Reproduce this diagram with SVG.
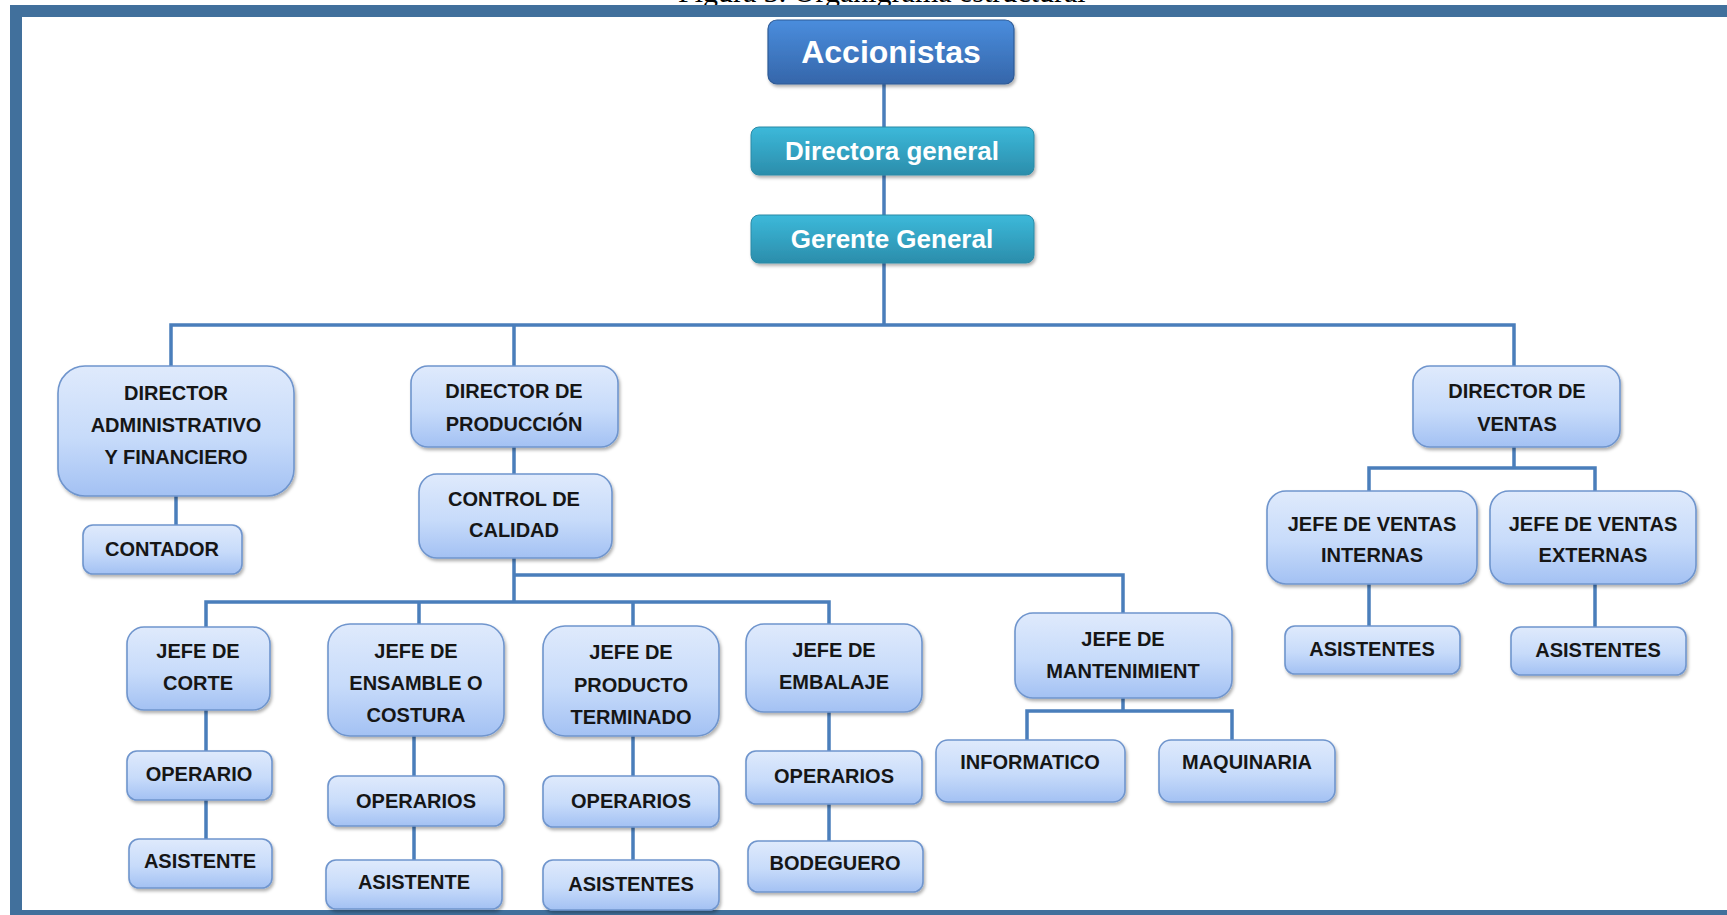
<svg xmlns="http://www.w3.org/2000/svg" width="1727" height="915" viewBox="0 0 1727 915">
<style>
.n{fill:url(#gL);stroke:#6f95cd;stroke-width:1.6;filter:url(#sh)}
.tl{fill:url(#gT);stroke:#2a8aa6;stroke-width:1;filter:url(#sh)}
.tp{fill:url(#gA);stroke:#2d5a96;stroke-width:1.2;filter:url(#sh)}
.t{font-family:"Liberation Sans",Arial,sans-serif;font-weight:bold;font-size:20px;fill:#161616;text-anchor:middle}
.w{font-family:"Liberation Sans",Arial,sans-serif;font-weight:bold;fill:#ffffff;text-anchor:middle}
.c{fill:none;stroke:#4a7ebb;stroke-width:3.5;stroke-linejoin:miter}
.frame{fill:#41709c}
</style>
<defs>
<linearGradient id="gL" x1="0" y1="0" x2="0" y2="1">
<stop offset="0" stop-color="#dfeafc"/>
<stop offset="0.55" stop-color="#c7dbfa"/>
<stop offset="1" stop-color="#a3c1f3"/>
</linearGradient>
<linearGradient id="gT" x1="0" y1="0" x2="0" y2="1">
<stop offset="0" stop-color="#3cb9da"/>
<stop offset="1" stop-color="#2b8dab"/>
</linearGradient>
<linearGradient id="gA" x1="0" y1="0" x2="0" y2="1">
<stop offset="0" stop-color="#4a8ddd"/>
<stop offset="1" stop-color="#3566aa"/>
</linearGradient>
<filter id="sh" x="-10%" y="-10%" width="120%" height="130%">
<feDropShadow dx="1.5" dy="2.5" stdDeviation="1.8" flood-color="#000" flood-opacity="0.3"/>
</filter>
</defs>
<rect x="0" y="0" width="1727" height="915" fill="#ffffff"/>
<text x="678" y="2" font-family="Liberation Serif,'Times New Roman',serif" font-size="30" fill="#000">Figura 3. Organigrama estructural</text>
<g id="frame">
<rect class="frame" x="10" y="5" width="1717" height="12"/>
<rect class="frame" x="10" y="5" width="12" height="910"/>
<rect class="frame" x="10" y="910" width="1717" height="5"/>
</g>
<g id="connectors">
<path class="c" d="M884 84V127M884 175V215M884 263V325"/>
<path class="c" d="M171 366V325H1514V366M514 325V366"/>
<path class="c" d="M176 496V525"/>
<path class="c" d="M514 447V474M514 558V602"/>
<path class="c" d="M514 575H1123V613"/>
<path class="c" d="M206 627V602H829V624M419 602V624M633 602V626"/>
<path class="c" d="M206 710V751M206 800V839"/>
<path class="c" d="M414 736V776M414 826V860"/>
<path class="c" d="M633 736V776M633 827V860"/>
<path class="c" d="M829 712V751M829 804V841"/>
<path class="c" d="M1123 698V711M1027 740V711H1232V740"/>
<path class="c" d="M1514 447V468M1369 491V468H1595V491"/>
<path class="c" d="M1369 584V626M1595 584V627"/>
</g>
<g id="n-accionistas"><rect class="tp" x="768" y="20" width="246" height="64" rx="9"/><text class="w" x="891" y="63" font-size="32">Accionistas</text></g>
<g id="n-directora"><rect class="tl" x="751" y="127" width="283" height="48" rx="8"/><text class="w" x="892" y="160" font-size="26">Directora general</text></g>
<g id="n-gerente"><rect class="tl" x="751" y="215" width="283" height="48" rx="8"/><text class="w" x="892" y="248" font-size="26">Gerente General</text></g>
<g id="n-dir-admin"><rect class="n" x="58" y="366" width="236" height="130" rx="27"/><text class="t" x="176" y="400">DIRECTOR</text><text class="t" x="176" y="432">ADMINISTRATIVO</text><text class="t" x="176" y="464">Y FINANCIERO</text></g>
<g id="n-contador"><rect class="n" x="83" y="525" width="159" height="49" rx="10"/><text class="t" x="162" y="556">CONTADOR</text></g>
<g id="n-dir-prod"><rect class="n" x="411" y="366" width="207" height="81" rx="17"/><text class="t" x="514" y="398">DIRECTOR  DE</text><text class="t" x="514" y="431">PRODUCCIÓN</text></g>
<g id="n-control"><rect class="n" x="419" y="474" width="193" height="84" rx="18"/><text class="t" x="514" y="506">CONTROL DE</text><text class="t" x="514" y="537">CALIDAD</text></g>
<g id="n-corte"><rect class="n" x="127" y="627" width="143" height="83" rx="17"/><text class="t" x="198" y="658">JEFE DE</text><text class="t" x="198" y="690">CORTE</text></g>
<g id="n-operario1"><rect class="n" x="127" y="751" width="145" height="49" rx="10"/><text class="t" x="199" y="781">OPERARIO</text></g>
<g id="n-asistente1"><rect class="n" x="129" y="839" width="143" height="49" rx="10"/><text class="t" x="200" y="868">ASISTENTE</text></g>
<g id="n-ensamble"><rect class="n" x="328" y="624" width="176" height="112" rx="22"/><text class="t" x="416" y="658">JEFE DE</text><text class="t" x="416" y="690">ENSAMBLE O</text><text class="t" x="416" y="722">COSTURA</text></g>
<g id="n-operarios2"><rect class="n" x="328" y="776" width="176" height="50" rx="10"/><text class="t" x="416" y="808">OPERARIOS</text></g>
<g id="n-asistente2"><rect class="n" x="326" y="860" width="176" height="49" rx="10"/><text class="t" x="414" y="889">ASISTENTE</text></g>
<g id="n-producto"><rect class="n" x="543" y="626" width="176" height="110" rx="22"/><text class="t" x="631" y="659">JEFE DE</text><text class="t" x="631" y="692">PRODUCTO</text><text class="t" x="631" y="724">TERMINADO</text></g>
<g id="n-operarios3"><rect class="n" x="543" y="776" width="176" height="51" rx="10"/><text class="t" x="631" y="808">OPERARIOS</text></g>
<g id="n-asistentes3"><rect class="n" x="543" y="860" width="176" height="50" rx="10"/><text class="t" x="631" y="891">ASISTENTES</text></g>
<g id="n-embalaje"><rect class="n" x="746" y="624" width="176" height="88" rx="18"/><text class="t" x="834" y="657">JEFE DE</text><text class="t" x="834" y="689">EMBALAJE</text></g>
<g id="n-operarios4"><rect class="n" x="746" y="751" width="176" height="53" rx="10"/><text class="t" x="834" y="783">OPERARIOS</text></g>
<g id="n-bodeguero"><rect class="n" x="748" y="841" width="175" height="51" rx="10"/><text class="t" x="835" y="870">BODEGUERO</text></g>
<g id="n-mantenimiento"><rect class="n" x="1015" y="613" width="217" height="85" rx="18"/><text class="t" x="1123" y="646">JEFE DE</text><text class="t" x="1123" y="678">MANTENIMIENT</text></g>
<g id="n-informatico"><rect class="n" x="936" y="740" width="189" height="62" rx="12"/><text class="t" x="1030" y="769">INFORMATICO</text></g>
<g id="n-maquinaria"><rect class="n" x="1159" y="740" width="176" height="62" rx="12"/><text class="t" x="1247" y="769">MAQUINARIA</text></g>
<g id="n-dir-ventas"><rect class="n" x="1413" y="366" width="207" height="81" rx="17"/><text class="t" x="1517" y="398">DIRECTOR  DE</text><text class="t" x="1517" y="431">VENTAS</text></g>
<g id="n-ventas-int"><rect class="n" x="1267" y="491" width="210" height="93" rx="19"/><text class="t" x="1372" y="531">JEFE DE VENTAS</text><text class="t" x="1372" y="562">INTERNAS</text></g>
<g id="n-asistentes-int"><rect class="n" x="1285" y="626" width="175" height="48" rx="10"/><text class="t" x="1372" y="656">ASISTENTES</text></g>
<g id="n-ventas-ext"><rect class="n" x="1490" y="491" width="206" height="93" rx="19"/><text class="t" x="1593" y="531">JEFE DE VENTAS</text><text class="t" x="1593" y="562">EXTERNAS</text></g>
<g id="n-asistentes-ext"><rect class="n" x="1511" y="627" width="175" height="48" rx="10"/><text class="t" x="1598" y="657">ASISTENTES</text></g>
</svg>
